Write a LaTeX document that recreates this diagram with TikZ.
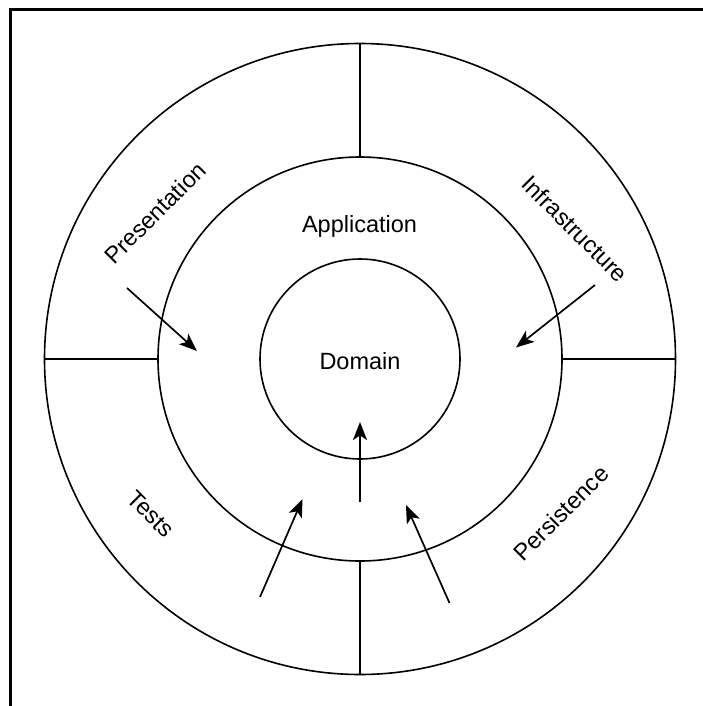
\documentclass[tikz,border=0pt]{standalone}
\usepackage{fontspec}
\setmainfont{Liberation Sans}
\usetikzlibrary{arrows.meta}
\begin{document}
\begin{tikzpicture}[x=1pt,y=-1pt,
  ring/.style={circle,draw,line width=1.6pt,inner sep=0pt,outer sep=0pt},
  divider/.style={line width=1.6pt},
  flow/.style={line width=1.7pt,-{Stealth[length=18pt,width=14pt,inset=4.5pt]}},
  layer/.style={font=\fontsize{23.5}{28}\selectfont,inner sep=0pt}]
\useasboundingbox (0,0) rectangle (703,706);
% frame edges
\draw[line width=2.2pt] (703,9.5) -- (10.5,9.5) -- (10.5,706);
% concentric layers
\coordinate (c) at (360,359);
\node[ring,minimum size=631pt] (outer) at (c) {};
\node[ring,minimum size=404pt] (middle) at (c) {};
\node[ring,minimum size=200pt] (inner) at (c) {};
% ring dividers
\draw[divider] (outer.north) -- (middle.north);
\draw[divider] (outer.south) -- (middle.south);
\draw[divider] (outer.west) -- (middle.west);
\draw[divider] (outer.east) -- (middle.east);
% labels
\node[layer] (domain) at (360,361) {Domain};
\node[layer] (application) at (359.5,226) {Application};
\node[layer,rotate=45] (presentation) at (155,213) {Presentation};
\node[layer,rotate=-45] (infrastructure) at (575,229) {Infrastructure};
\node[layer,rotate=-45] (tests) at (151,514) {Tests};
\node[layer,rotate=45] (persistence) at (561,513) {Persistence};
% dependency arrows
\coordinate (p0) at (127,288);  \coordinate (p1) at (197,351);
\coordinate (i0) at (595,285);  \coordinate (i1) at (516,347.5);
\coordinate (t0) at (260,597);  \coordinate (t1) at (302.5,499);
\coordinate (a0) at (360,502);  \coordinate (a1) at (360,422);
\coordinate (s0) at (449.5,603); \coordinate (s1) at (406,505);
\draw[flow] (p0) -- (p1);
\draw[flow] (i0) -- (i1);
\draw[flow] (t0) -- (t1);
\draw[flow] (a0) -- (a1);
\draw[flow] (s0) -- (s1);
\end{tikzpicture}
\end{document}
